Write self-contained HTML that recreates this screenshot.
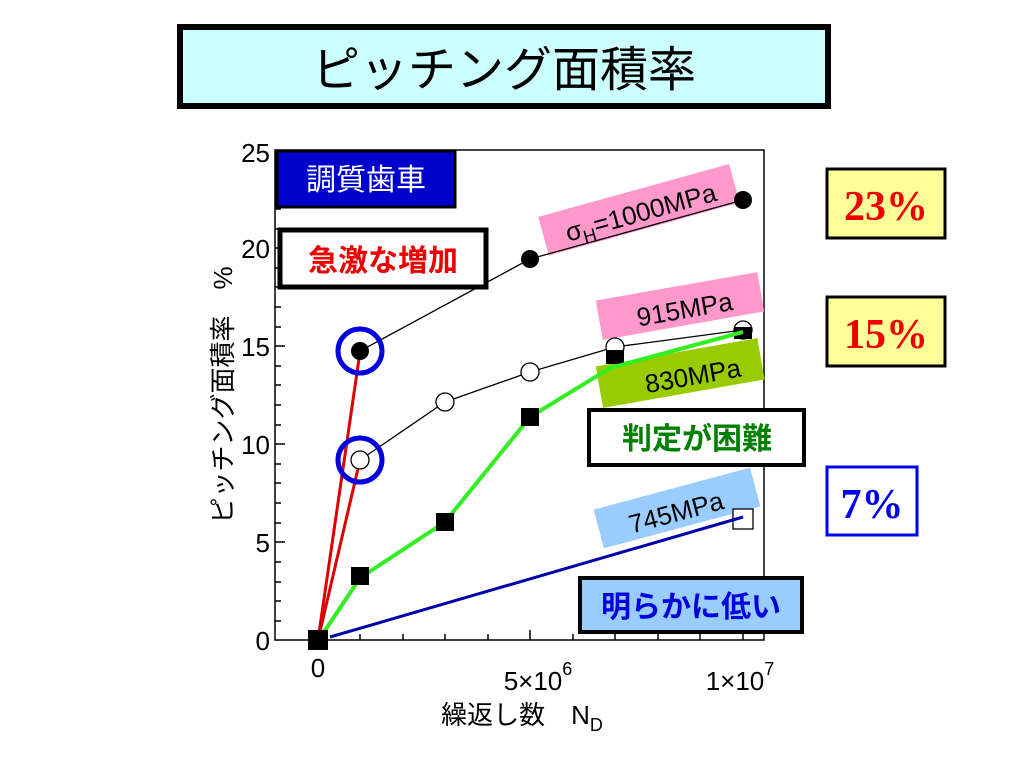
<!DOCTYPE html>
<html><head><meta charset="utf-8"><style>
body{margin:0;width:1024px;height:768px;background:#fff;overflow:hidden}
svg{display:block}
text{font-family:"Liberation Sans","Noto Sans CJK JP",sans-serif}
</style></head><body>
<svg width="1024" height="768" viewBox="0 0 1024 768">
<rect x="180" y="27" width="648" height="79" fill="#ccffff" stroke="#000" stroke-width="6"/>
<text x="504" y="86" font-size="48" text-anchor="middle">ピッチング面積率</text>

<rect x="275" y="150" width="489" height="490" fill="none" stroke="#000" stroke-width="1.5"/>
<g stroke="#000" stroke-width="1.5">
<line x1="275" y1="621" x2="281" y2="621"/><line x1="275" y1="601" x2="281" y2="601"/><line x1="275" y1="582" x2="281" y2="582"/><line x1="275" y1="562" x2="281" y2="562"/><line x1="275" y1="542" x2="285" y2="542"/>
<line x1="275" y1="523" x2="281" y2="523"/><line x1="275" y1="503" x2="281" y2="503"/><line x1="275" y1="483" x2="281" y2="483"/><line x1="275" y1="464" x2="281" y2="464"/><line x1="275" y1="444" x2="285" y2="444"/>
<line x1="275" y1="425" x2="281" y2="425"/><line x1="275" y1="405" x2="281" y2="405"/><line x1="275" y1="385" x2="281" y2="385"/><line x1="275" y1="366" x2="281" y2="366"/><line x1="275" y1="346" x2="285" y2="346"/>
<line x1="275" y1="327" x2="281" y2="327"/><line x1="275" y1="307" x2="281" y2="307"/><line x1="275" y1="287" x2="281" y2="287"/><line x1="275" y1="268" x2="281" y2="268"/><line x1="275" y1="248" x2="285" y2="248"/>
<line x1="275" y1="229" x2="281" y2="229"/><line x1="275" y1="209" x2="281" y2="209"/><line x1="275" y1="189" x2="281" y2="189"/><line x1="275" y1="170" x2="281" y2="170"/>
<line x1="360" y1="640" x2="360" y2="634"/><line x1="403" y1="640" x2="403" y2="634"/><line x1="445" y1="640" x2="445" y2="634"/><line x1="488" y1="640" x2="488" y2="634"/><line x1="530" y1="640" x2="530" y2="630"/><line x1="573" y1="640" x2="573" y2="634"/><line x1="615" y1="640" x2="615" y2="634"/><line x1="658" y1="640" x2="658" y2="634"/><line x1="700" y1="640" x2="700" y2="634"/><line x1="743" y1="640" x2="743" y2="630"/>
</g>
<g font-size="26" text-anchor="end">
<text x="270" y="650">0</text><text x="270" y="552">5</text><text x="270" y="454">10</text><text x="270" y="356">15</text><text x="270" y="258">20</text><text x="270" y="162">25</text>
</g>
<g font-size="26" text-anchor="middle">
<text x="318" y="677">0</text>
<text x="538" y="690">5×10<tspan font-size="18" dy="-15">6</tspan></text>
<text x="740" y="690">1×10<tspan font-size="18" dy="-15">7</tspan></text>
</g>
<text x="522" y="724" font-size="26" text-anchor="middle">繰返し数　N<tspan font-size="18" dy="7">D</tspan></text>
<text transform="translate(232,395) rotate(-90)" font-size="26" text-anchor="middle">ピッチング面積率　%</text>

<g transform="rotate(-15.5 638 210)"><rect x="540" y="190" width="198" height="40" fill="#ff99cc"/><text x="640" y="222" font-size="26" text-anchor="middle">σ<tspan font-size="18" dy="6">H</tspan><tspan dy="-6">=1000MPa</tspan></text></g>
<g transform="rotate(-10 680 306)"><rect x="598" y="286" width="164" height="40" fill="#ff99cc"/><text x="684" y="319" font-size="26" text-anchor="middle">915MPa</text></g>
<g transform="rotate(-10 680 372)"><rect x="598" y="352" width="164" height="42" fill="#99cc00"/><text x="692" y="387" font-size="26" text-anchor="middle">830MPa</text></g>
<g transform="rotate(-15 677 508)"><rect x="596" y="488" width="162" height="40" fill="#99ccff"/><text x="675" y="521" font-size="26" text-anchor="middle">745MPa</text></g>

<polyline points="318,640 360,351 530,259 743,200" fill="none" stroke="#000" stroke-width="1.3"/>
<polyline points="318,640 360,460 445,402 530,372 615,347 743,330" fill="none" stroke="#000" stroke-width="1.3"/>
<line x1="318" y1="640" x2="360" y2="352" stroke="#dd0000" stroke-width="3"/>
<line x1="318" y1="640" x2="360" y2="460" stroke="#dd0000" stroke-width="3"/>
<polyline points="320,638 360,578 445,522 530,417 610,368 743,332" fill="none" stroke="#33ee22" stroke-width="4"/>

<circle cx="360" cy="351" r="9" fill="#000"/><circle cx="530" cy="259" r="9" fill="#000"/><circle cx="743" cy="200" r="9" fill="#000"/>
<g fill="#fff" stroke="#000" stroke-width="1.3"><circle cx="360" cy="460" r="9"/><circle cx="445" cy="402" r="9"/><circle cx="530" cy="372" r="9"/><circle cx="615" cy="347" r="9"/><circle cx="743" cy="330" r="9"/></g>
<g fill="#000"><rect x="351" y="567" width="18" height="18"/><rect x="436" y="513" width="18" height="18"/><rect x="521" y="408" width="18" height="18"/><rect x="606" y="350" width="18" height="14"/><rect x="734" y="327" width="18" height="12"/><rect x="308" y="630" width="20" height="20"/></g>
<rect x="733" y="509" width="20" height="20" fill="#fff" stroke="#000" stroke-width="1.3"/>
<line x1="330" y1="637" x2="743" y2="517" stroke="#0000aa" stroke-width="3"/>
<polyline points="610,368 743,332" fill="none" stroke="#33ee22" stroke-width="4"/>
<circle cx="360" cy="351" r="22" fill="none" stroke="#0000dd" stroke-width="5"/>
<circle cx="360" cy="460" r="22" fill="none" stroke="#0000dd" stroke-width="5"/>

<rect x="277" y="151" width="178" height="56" fill="#0000cc" stroke="#000" stroke-width="3"/>
<text x="366" y="190" font-size="30" fill="#fff" text-anchor="middle">調質歯車</text>
<rect x="280" y="230" width="206" height="57" fill="#fff" stroke="#000" stroke-width="5"/>
<text x="383" y="271" font-size="30" font-weight="bold" fill="#ee0000" text-anchor="middle">急激な増加</text>
<rect x="589" y="410" width="215" height="55" fill="#fff" stroke="#000" stroke-width="4"/>
<text x="697" y="449" font-size="30" font-weight="bold" fill="#008000" text-anchor="middle">判定が困難</text>
<rect x="580" y="578" width="222" height="54" fill="#99ccff" stroke="#000" stroke-width="4"/>
<text x="691" y="617" font-size="30" font-weight="bold" fill="#0000dd" text-anchor="middle">明らかに低い</text>

<rect x="827" y="169" width="118" height="69" fill="#ffff99" stroke="#000" stroke-width="3"/>
<text x="886" y="220" font-size="42" font-weight="bold" fill="#ee0000" text-anchor="middle" style="font-family:'Liberation Serif',serif">23%</text>
<rect x="827" y="297" width="118" height="69" fill="#ffff99" stroke="#000" stroke-width="3"/>
<text x="886" y="348" font-size="42" font-weight="bold" fill="#ee0000" text-anchor="middle" style="font-family:'Liberation Serif',serif">15%</text>
<rect x="827" y="467" width="90" height="68" fill="#fff" stroke="#0000ee" stroke-width="3"/>
<text x="872" y="518" font-size="42" font-weight="bold" fill="#0000ee" text-anchor="middle" style="font-family:'Liberation Serif',serif">7%</text>
</svg>
</body></html>
